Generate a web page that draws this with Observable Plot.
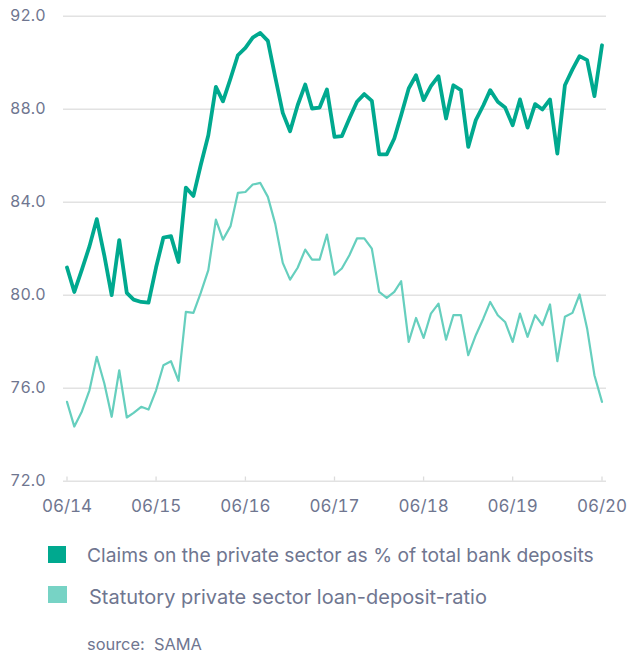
<!DOCTYPE html>
<html>
<head>
<meta charset="utf-8">
<script src="https://cdn.jsdelivr.net/npm/d3@7"></script>
<script src="https://cdn.jsdelivr.net/npm/@observablehq/plot@0.6"></script>
<style>
  html, body { margin: 0; padding: 0; background: #fff; }
  #wrap { position: relative; width: 630px; height: 654px; font-family: Inter, Lato, sans-serif; color: #6f7690; }
  .sw { position: absolute; }
  .lt { position: absolute; white-space: nowrap; line-height: 1; }
</style>
</head>
<body>
<div id="wrap">
  <div id="chart"></div>
  <div class="sw" style="left:48px;top:546px;width:18px;height:17px;background:#00a98f"></div>
  <div class="lt" id="l1" style="left:87px"></div>
  <div class="sw" style="left:47.5px;top:586px;width:19px;height:17px;background:#77d3c5"></div>
  <div class="lt" id="l2" style="left:89px"></div>
  <div class="lt" id="l3" style="left:87px"></div>
</div>
<script>
// Monthly observations, June 2014 to June 2020
const startMonth = "2014-06-01";
const endMonth = "2020-06-01";
const claimsPct = [
  81.19, 80.14, 81.1, 82.1, 83.27, 81.7, 80.0, 82.37, 80.1, 79.81,
  79.71, 79.68, 81.2, 82.48, 82.54, 81.43, 84.63, 84.27, 85.6, 86.88,
  88.96, 88.34, 89.32, 90.32, 90.64, 91.08, 91.28, 90.94, 89.39, 87.84,
  87.05, 88.17, 89.06, 88.03, 88.07, 88.85, 86.81, 86.84, 87.6, 88.32,
  88.65, 88.36, 86.06, 86.06, 86.74, 87.74, 88.89, 89.46, 88.39, 88.99,
  89.42, 87.6, 89.03, 88.82, 86.38, 87.53, 88.17, 88.82, 88.32, 88.07,
  87.31, 88.42, 87.21, 88.22, 87.99, 88.42, 86.09, 89.03, 89.71, 90.28,
  90.11, 88.56, 90.75
];
const statutoryLDR = [
  75.41, 74.35, 75.0, 75.91, 77.35, 76.2, 74.77, 76.77, 74.74, 74.94,
  75.2, 75.08, 75.91, 76.99, 77.16, 76.32, 79.28, 79.24, 80.1, 81.08,
  83.25, 82.39, 82.97, 84.4, 84.44, 84.76, 84.83, 84.23, 83.08, 81.39,
  80.67, 81.18, 81.96, 81.53, 81.53, 82.61, 80.88, 81.15, 81.72, 82.44,
  82.44, 82.0, 80.14, 79.89, 80.14, 80.6, 77.99, 79.02, 78.16, 79.21,
  79.64, 78.09, 79.14, 79.14, 77.42, 78.28, 79.0, 79.71, 79.14, 78.85,
  77.99, 79.21, 78.21, 79.14, 78.71, 79.6, 77.16, 79.07, 79.24, 80.03,
  78.57, 76.56, 75.41
];
const yTicks = [72, 76, 80, 84, 88, 92];
const xTickLabels = ["06/14", "06/15", "06/16", "06/17", "06/18", "06/19", "06/20"];
const seriesNames = ["Claims on the private sector as % of total bank deposits", "Statutory private sector loan-deposit-ratio"];
const sourceText = "source:\u00a0 SAMA";

const FONT = "Inter, Lato, sans-serif";
const months = d3.utcMonth.range(new Date(startMonth), d3.utcMonth.offset(new Date(endMonth), 1));
const dataA = months.map((d, i) => ({date: d, value: claimsPct[i]}));
const dataB = months.map((d, i) => ({date: d, value: statutoryLDR[i]}));
const xTicks = xTickLabels.map(s => new Date(Date.UTC(2000 + +s.slice(3), +s.slice(0, 2) - 1, 1)));
const tickFmt = new Map(xTicks.map((d, i) => [+d, xTickLabels[i]]));

// legend text, sized to the reference's text widths
const ctx = document.createElement("canvas").getContext("2d");
function fit(id, text, targetW, centerY) {
  ctx.font = `20px ${FONT}`;
  const w = ctx.measureText(text).width;
  const size = Math.min(22, Math.max(12, 20 * targetW / w));
  const el = document.getElementById(id);
  el.textContent = text;
  el.style.fontSize = size + "px";
  el.style.top = (centerY - 0.5 * size) + "px";
}
fit("l1", seriesNames[0], 507, 555.8);
fit("l2", seriesNames[1], 398, 597.5);
fit("l3", sourceText, 115, 644);

const H = 520;
const chart = Plot.plot({
  width: 630,
  height: H,
  marginTop: 15.7,
  marginBottom: H - 480.7,
  marginLeft: 63,
  marginRight: 24,
  style: {fontFamily: FONT, color: "#6f7690", background: "#fff"},
  x: {type: "utc", domain: [new Date(startMonth), new Date(endMonth)], insetLeft: 3.5, insetRight: 4.5},
  y: {domain: [72, 92]},
  marks: [
    Plot.ruleY(yTicks, {stroke: "#e2e2e2", strokeWidth: 1.6}),
    Plot.ruleX(xTicks, {y1: 72, y2: 72.18, stroke: "#dcdcdc", strokeWidth: 1.3}),
    Plot.line(dataB, {x: "date", y: "value", stroke: "#66cfbe", strokeWidth: 2.2}),
    Plot.line(dataA, {x: "date", y: "value", stroke: "#00a98f", strokeWidth: 3.8}),
    Plot.axisY(yTicks, {tickSize: 0, tickPadding: 18, tickFormat: d3.format(".1f"), fontSize: 16, fill: "#6f7690", label: null}),
    Plot.axisX(xTicks, {tickSize: 0, tickPadding: 19, tickFormat: d => tickFmt.get(+d), fontSize: 17, fill: "#6f7690", label: null})
  ]
});
document.getElementById("chart").appendChild(chart);
</script>
</body>
</html>
